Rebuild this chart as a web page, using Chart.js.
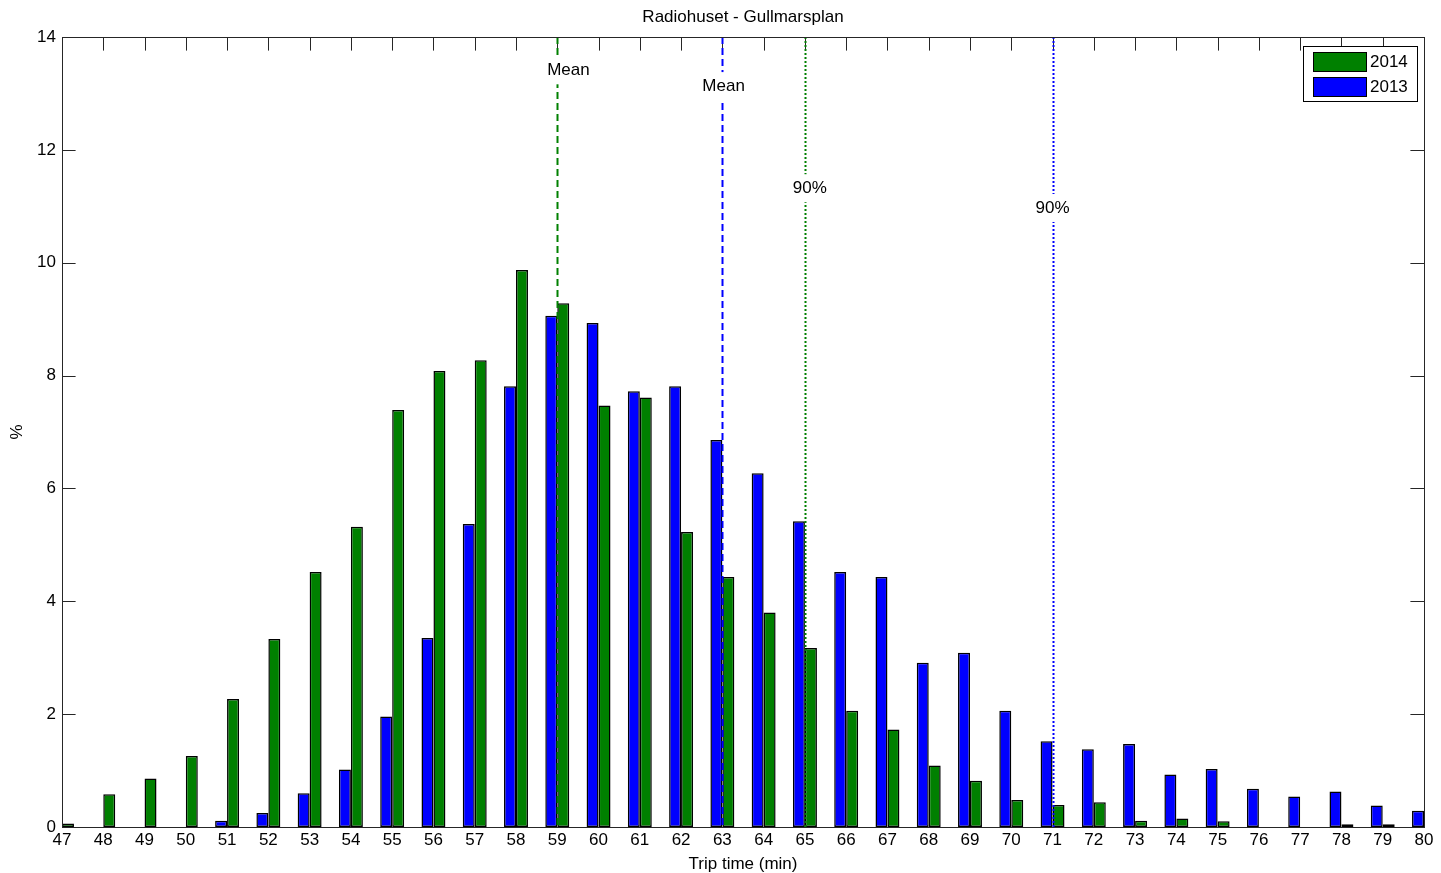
<!DOCTYPE html>
<html>
<head>
<meta charset="utf-8">
<title>Radiohuset - Gullmarsplan</title>
<script src="https://cdn.jsdelivr.net/npm/chart.js@4/dist/chart.umd.min.js"></script>
<style>
  html, body { margin: 0; padding: 0; background: #fff; }
  #wrap { width: 1441px; height: 873px; }
</style>
</head>
<body>
<div id="wrap"><canvas id="tripChart" width="1441" height="873"></canvas></div>
<script>
// ---- data ----
const minutes = [47, 48, 49, 50, 51, 52, 53, 54, 55, 56, 57, 58, 59, 60, 61, 62, 63,
                 64, 65, 66, 67, 68, 69, 70, 71, 72, 73, 74, 75, 76, 77, 78, 79, 80];
const share2013 = [0, 0, 0, 0, 0.11, 0.25, 0.60, 1.02, 1.96, 3.35, 5.37, 7.81, 9.06, 8.93, 7.72, 7.81, 6.86,
                   6.27, 5.42, 4.52, 4.43, 2.91, 3.09, 2.06, 1.52, 1.38, 1.47, 0.93, 1.03, 0.68, 0.54, 0.63, 0.38, 0.29];
const share2014 = [0.06, 0.58, 0.86, 1.26, 2.27, 3.33, 4.52, 5.32, 7.39, 8.08, 8.27, 9.87, 9.28, 7.47, 7.61, 5.23, 4.43,
                   3.80, 3.17, 2.06, 1.73, 1.09, 0.82, 0.48, 0.39, 0.44, 0.11, 0.15, 0.10, 0, 0, 0.05, 0.05, 0];
const yTicks = [0, 2, 4, 6, 8, 10, 12, 14];

// reference lines: mean and 90th percentile per year
const markerYears  = ['2014', '2013', '2014', '2013'];
const markerLabels = ['Mean', 'Mean', '90%', '90%'];
const markerValues = [59, 63, 65, 71];

// where the marker labels sit (data units) and how lines are dashed
const markerStyle = {
  labelX: [59.27, 63.03, 65.12, 71.0],
  labelY: [13.41, 13.13, 11.32, 10.97],
  dash: { 'Mean': [7, 4], '90%': [2, 2] }
};

const GREEN = '#008000';
const BLUE = '#0000ff';
const AXIS_COLOR = '#262626';
const TICK_LEN = 13.6;
const FONT = '"Liberation Sans", Arial, sans-serif';
const yearColor = { '2014': GREEN, '2013': BLUE };

Chart.defaults.font.family = FONT;
Chart.defaults.font.size = 17;
Chart.defaults.color = '#000';

const matlabFrame = {
  id: 'matlabFrame',
  beforeDatasetsDraw(chart) {
    // inward tick marks (top, left, right; bottom ones hide behind the bars)
    const { ctx, chartArea: a, scales: { x, y } } = chart;
    ctx.save();
    ctx.strokeStyle = AXIS_COLOR;
    ctx.lineWidth = 1;
    ctx.beginPath();
    minutes.forEach(m => {
      const px = Math.round(x.getPixelForValue(m)) + 0.5;
      ctx.moveTo(px, a.top); ctx.lineTo(px, a.top + TICK_LEN);
    });
    yTicks.forEach(v => {
      const py = Math.round(y.getPixelForValue(v)) + 0.5;
      ctx.moveTo(a.left, py); ctx.lineTo(a.left + TICK_LEN, py);
      ctx.moveTo(a.right, py); ctx.lineTo(a.right - TICK_LEN, py);
    });
    ctx.stroke();
    ctx.restore();
  },
  afterDatasetsDraw(chart) {
    const { ctx, chartArea: a, scales: { x, y } } = chart;
    ctx.save();
    // vertical mean / 90% lines
    markerValues.forEach((v, i) => {
      const px = Math.round(x.getPixelForValue(v)) + 0.5;
      ctx.strokeStyle = yearColor[markerYears[i]];
      ctx.lineWidth = 2;
      ctx.setLineDash(markerStyle.dash[markerLabels[i]]);
      ctx.beginPath();
      ctx.moveTo(px, a.top);
      ctx.lineTo(px, a.bottom);
      ctx.stroke();
    });
    ctx.setLineDash([]);
    // labels on white boxes
    ctx.font = '17px ' + FONT;
    ctx.textAlign = 'center';
    ctx.textBaseline = 'middle';
    markerLabels.forEach((txt, i) => {
      const cx = x.getPixelForValue(markerStyle.labelX[i]);
      const cy = y.getPixelForValue(markerStyle.labelY[i]);
      const w = ctx.measureText(txt).width + 6;
      ctx.fillStyle = '#fff';
      ctx.fillRect(cx - w / 2, cy - 14, w, 28);
      ctx.fillStyle = '#000';
      ctx.fillText(txt, cx, cy);
    });
    // box round the axes
    ctx.strokeStyle = AXIS_COLOR;
    ctx.lineWidth = 1;
    ctx.strokeRect(Math.round(a.left) + 0.5, Math.round(a.top) + 0.5,
                   Math.round(a.right - a.left), Math.round(a.bottom - a.top));
    ctx.restore();
  },
  afterDraw(chart) {
    const { ctx, chartArea: a } = chart;
    ctx.save();
    // title centred over the axes
    ctx.font = '17px ' + FONT;
    ctx.fillStyle = '#000';
    ctx.textAlign = 'center';
    ctx.textBaseline = 'middle';
    ctx.fillText('Radiohuset - Gullmarsplan', (a.left + a.right) / 2, 17);

    // legend box in the top right corner (2014 first, like the original)
    const lx = a.right - 121, ly = a.top + 9, lw = 114, lh = 55;
    ctx.fillStyle = '#fff';
    ctx.fillRect(lx, ly, lw, lh);
    ctx.strokeStyle = '#000';
    ctx.strokeRect(lx + 0.5, ly + 0.5, lw, lh);
    const entries = chart.data.datasets.slice().reverse();
    entries.forEach((ds, i) => {
      const sy = ly + 6 + i * 25;
      ctx.fillStyle = ds.backgroundColor;
      ctx.fillRect(lx + 10, sy, 53, 19);
      ctx.strokeStyle = '#000';
      ctx.strokeRect(lx + 10.5, sy + 0.5, 53, 19);
      ctx.fillStyle = '#000';
      ctx.textAlign = 'left';
      ctx.fillText(ds.label, lx + 67, sy + 10);
    });
    ctx.restore();
  }
};

const ctx = document.getElementById('tripChart').getContext('2d');
new Chart(ctx, {
  type: 'bar',
  data: {
    datasets: [{
      label: '2013',
      data: minutes.map((m, i) => ({ x: m, y: share2013[i] })),
      backgroundColor: BLUE,
      borderColor: '#000',
      borderWidth: 1.5,
      borderSkipped: false
    }, {
      label: '2014',
      data: minutes.map((m, i) => ({ x: m, y: share2014[i] })),
      backgroundColor: GREEN,
      borderColor: '#000',
      borderWidth: 1.5,
      borderSkipped: false
    }]
  },
  options: {
    responsive: false,
    animation: false,
    events: [],
    barPercentage: 1,
    categoryPercentage: 0.58,
    layout: { padding: { top: 37, right: 17, bottom: 0, left: 0 } },
    plugins: {
      legend: { display: false },
      tooltip: { enabled: false }
    },
    scales: {
      x: {
        type: 'linear',
        min: 47,
        max: 80,
        offset: false,
        grid: { display: false, drawTicks: false },
        border: { display: false },
        ticks: { stepSize: 1, autoSkip: false, maxRotation: 0, padding: 3 },
        title: { display: true, text: 'Trip time (min)', padding: { top: 0, bottom: -2 } },
        afterFit(scale) { scale.height = 46; }
      },
      y: {
        min: 0,
        max: 14,
        grid: { display: false, drawTicks: false },
        border: { display: false },
        ticks: { stepSize: 2, padding: 6 },
        title: { display: true, text: '%', padding: { top: 7, bottom: 0 } },
        afterFit(scale) { scale.width = 62; }
      }
    }
  },
  plugins: [matlabFrame]
});
</script>
</body>
</html>
